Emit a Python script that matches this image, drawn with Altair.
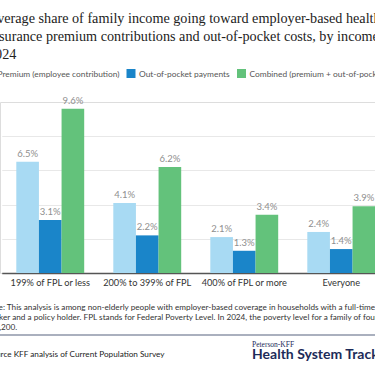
import altair as alt
import pandas as pd

categories = ["199% of FPL or less", "200% to 399% of FPL", "400% of FPL or more", "Everyone"]
series = ["Premium (employee contribution)", "Out-of-pocket payments", "Combined (premium + out-of-pocket)"]
premium = [6.5, 4.1, 2.1, 2.4]
out_of_pocket = [3.1, 2.2, 1.3, 1.4]
combined = [9.6, 6.2, 3.4, 3.9]
colors = ["#A8DAF3", "#1A85C9", "#63C27B"]

title_lines = [
    "Average share of family income going toward employer-based health",
    "insurance premium contributions and out-of-pocket costs, by income,",
    "2024",
]
note_lines = [
    "Note: This analysis is among non-elderly people with employer-based coverage in households with a full-time",
    "worker and a policy holder. FPL stands for Federal Poverty Level. In 2024, the poverty level for a family of four was",
    "$31,200.",
]
source_text = "Source KFF analysis of Current Population Survey"
logo_small = "Peterson-KFF"
logo_big = "Health System Tracker"

rows = []
for s, vals in zip(series, [premium, out_of_pocket, combined]):
    for c, v in zip(categories, vals):
        rows.append({"category": c, "series": s, "value": v, "label": f"{v:.1f}%"})
df = pd.DataFrame(rows)

PLOT_TOP = 102
PLOT_H = 171

x_enc = alt.X(
    "category:N",
    sort=categories,
    scale=alt.Scale(range=[1.75, 389.75], paddingInner=0.3, paddingOuter=0.15),
    axis=alt.Axis(
        title=None, labelAngle=0, ticks=False, tickSize=0, domainColor="#555555",
        domainWidth=1.5, labelFont="Lato", labelFontSize=9.2, labelColor="#333333",
        labelPadding=5,
    ),
)
xo_enc = alt.XOffset("series:N", sort=series, scale=alt.Scale(paddingInner=0, paddingOuter=0))
y_enc = alt.Y(
    "value:Q",
    scale=alt.Scale(domain=[0, 10], nice=False),
    axis=alt.Axis(title=None, labels=False, ticks=False, domain=False,
                  values=[2, 4, 6, 8], gridColor="#e8e8e8", gridWidth=1),
)

bars = alt.Chart(df).mark_bar().encode(
    x=x_enc,
    xOffset=xo_enc,
    y=y_enc,
    color=alt.Color(
        "series:N",
        sort=series,
        scale=alt.Scale(domain=series, range=colors),
        legend=alt.Legend(
            title=None, orient="none", direction="horizontal", legendX=-15, legendY=-33,
            symbolType="square", symbolSize=81, symbolStrokeWidth=0, labelFont="Lato",
            labelFontSize=8.4, labelColor="#555555", labelOffset=3.5, columnPadding=6.5,
            gridAlign="none",
        ),
    ),
)

labels = alt.Chart(df).mark_text(
    baseline="alphabetic", dy=-5, font="Lato", fontSize=9.5, color="#8f8f8f"
).encode(x=x_enc, xOffset=xo_enc, y=y_enc, text="label:N")

one = alt.Data(values=[{"k": 1}])

notes = alt.Chart(one).mark_text(
    align="left", baseline="middle", font="Lato", fontSize=8.2, color="#333333", lineHeight=10
).encode(x=alt.value(-15), y=alt.value(206), text=alt.value(note_lines))

divider = alt.Chart(one).mark_rule(color="#56637f", strokeWidth=1.2).encode(
    x=alt.value(0), x2=alt.value(375), y=alt.value(233)
)

source = alt.Chart(one).mark_text(
    align="left", baseline="middle", font="Lato", fontSize=8.2, color="#222222"
).encode(x=alt.value(-13), y=alt.value(253), text=alt.value(source_text))

logo1 = alt.Chart(one).mark_text(
    align="left", baseline="alphabetic", font="Liberation Serif", fontSize=7.5, color="#1d2b59"
).encode(x=alt.value(252), y=alt.value(245), text=alt.value(logo_small))

logo2 = alt.Chart(one).mark_text(
    align="left", baseline="alphabetic", font="Lato", fontWeight="bold", fontSize=14, color="#1d2b59"
).encode(x=alt.value(252), y=alt.value(257), text=alt.value(logo_big))

chart = alt.layer(bars, labels, notes, divider, source, logo1, logo2).properties(
    width=375,
    height=PLOT_H,
    autosize=alt.AutoSizeParams(type="none"),
    padding={"left": 0, "top": PLOT_TOP, "right": 0, "bottom": 384 - PLOT_TOP - PLOT_H},
    title=alt.Title(
        text=title_lines, anchor="start", dx=-12, font="Liberation Serif", fontSize=14.2,
        fontWeight="normal", color="#222222", lineHeight=18, offset=7, frame="group",
    ),
).configure_view(stroke=None).configure(background="white")

chart.save("out.html", embed_options={"renderer": "svg", "actions": False})
